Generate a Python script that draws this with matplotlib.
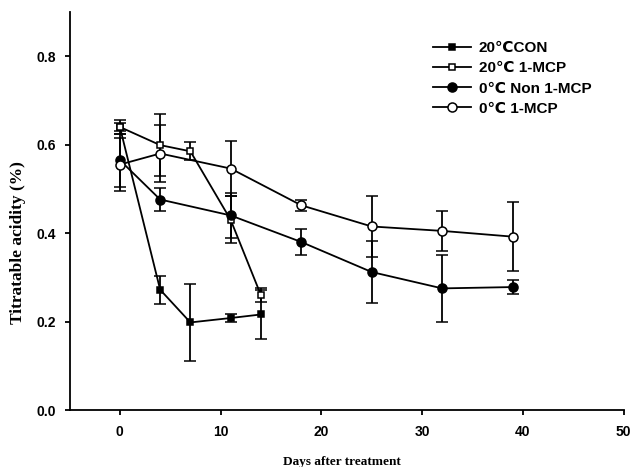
import matplotlib
matplotlib.use('Agg')
import matplotlib.pyplot as plt

# data
days_20 = [0, 4, 7, 11, 14]
con_20 = [0.64, 0.272, 0.198, 0.208, 0.216]
con_20_err = [0.01, 0.032, 0.087, 0.01, 0.055]
mcp_20 = [0.64, 0.599, 0.585, 0.43, 0.26]
mcp_20_err = [0.015, 0.07, 0.02, 0.053, 0.016]

days_0 = [0, 4, 11, 18, 25, 32, 39]
non_0 = [0.565, 0.476, 0.44, 0.38, 0.312, 0.275, 0.278]
non_0_err = [0.06, 0.025, 0.05, 0.03, 0.07, 0.075, 0.015]
mcp_0 = [0.555, 0.58, 0.546, 0.463, 0.415, 0.405, 0.392]
mcp_0_err = [0.06, 0.065, 0.062, 0.013, 0.07, 0.045, 0.078]

labels = ['20\u2103CON', '20\u2103 1-MCP', '0\u2103 Non 1-MCP', '0\u2103 1-MCP']
x_ticks = [0, 10, 20, 30, 40, 50]
y_ticks = [0.0, 0.2, 0.4, 0.6, 0.8]

sans = ['Liberation Sans', 'DejaVu Sans']
serif = ['Liberation Serif', 'DejaVu Serif']

W, H = 632, 467
fig = plt.figure(figsize=(W / 100, H / 100), dpi=100)
ax = fig.add_axes([69.5 / W, 1 - 410 / H, 554 / W, 398 / H])

series = [
    (days_20, con_20, con_20_err, 's', 'black', 5),
    (days_20, mcp_20, mcp_20_err, 's', 'white', 5),
    (days_0, non_0, non_0_err, 'o', 'black', 6.5),
    (days_0, mcp_0, mcp_0_err, 'o', 'white', 6.5),
]

handles = []
for (x, y, err, m, fc, ms), lab in zip(series, labels):
    h = ax.errorbar(x, y, yerr=err, color='black', lw=1.3, marker=m,
                    markersize=ms, markerfacecolor=fc, markeredgecolor='black',
                    markeredgewidth=1.1, capsize=4.3, capthick=1.3,
                    elinewidth=1.3, label=lab)
    handles.append(h[0])

ax.set_xlim(-5, 50)
ax.set_ylim(0, 0.9)
ax.set_xticks(x_ticks)
ax.set_yticks(y_ticks)
ax.set_yticklabels(['%.1f' % v for v in y_ticks])
for s in ['top', 'right']:
    ax.spines[s].set_visible(False)
for s in ['left', 'bottom']:
    ax.spines[s].set_linewidth(1.3)
ax.tick_params(direction='out', length=3.6, width=1.3)
ax.tick_params(axis='x', pad=7)
ax.tick_params(axis='y', pad=6)
for t in ax.get_xticklabels() + ax.get_yticklabels():
    t.set_family(sans)
    t.set_fontweight('bold')
    t.set_fontsize(10)

ax.set_xlabel('Days after treatment', family=serif, fontweight='bold',
              fontsize=9.5, va='center')
ax.xaxis.set_label_coords(0.491, -0.13)
ax.set_ylabel('Titratable acidity (%)', family=serif, fontweight='bold',
              fontsize=12.5, va='center')
ax.yaxis.set_label_coords(-0.093, 0.42)

leg = ax.legend(handles, labels, loc='upper left', frameon=False,
                bbox_to_anchor=(433 / W, 1 - 41 / H),
                bbox_transform=fig.transFigure, borderpad=0, borderaxespad=0,
                handlelength=2.5, handletextpad=0.5, labelspacing=0.41,
                prop={'family': sans, 'weight': 'bold', 'size': 11})

fig.savefig('out.png', dpi=100)
